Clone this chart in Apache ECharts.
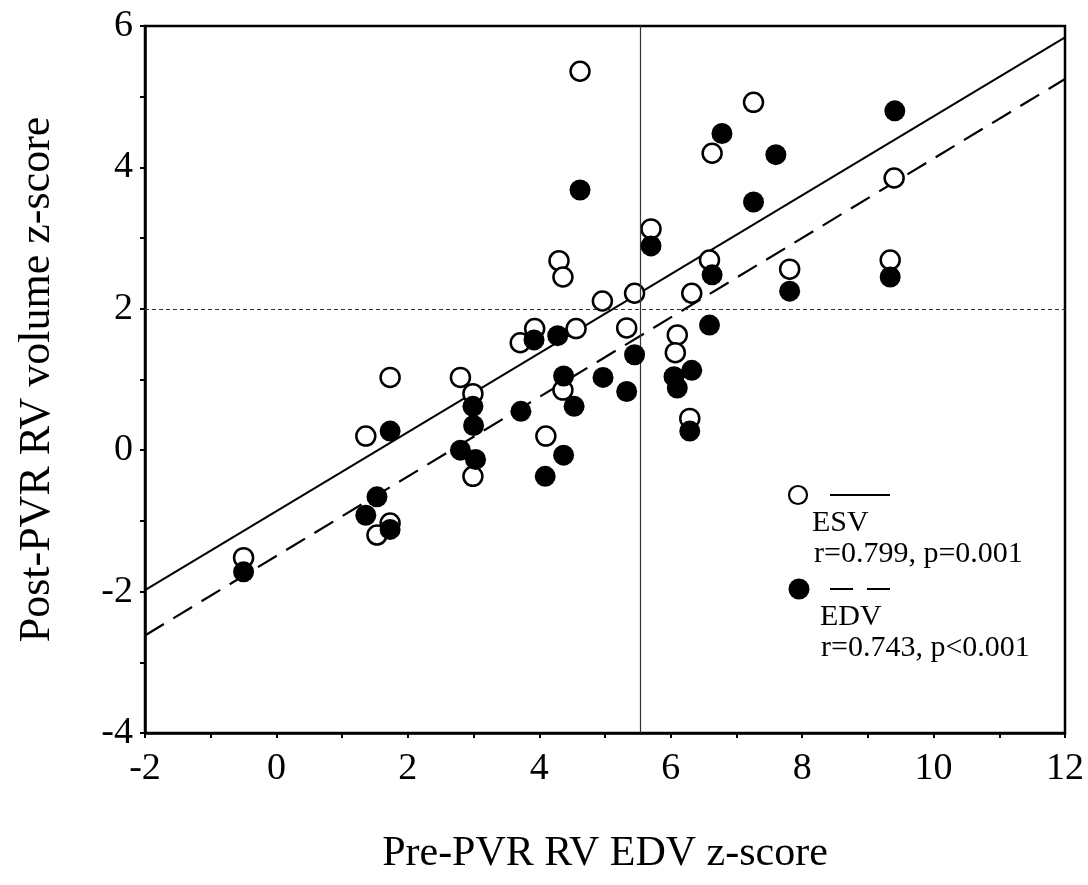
<!DOCTYPE html>
<html>
<head>
<meta charset="utf-8">
<script src="https://cdn.jsdelivr.net/npm/echarts@6/dist/echarts.min.js"></script>
<style>
html,body{margin:0;padding:0;background:#fff;}
#chart{width:1088px;height:885px;}
</style>
</head>
<body>
<div id="chart"></div>
<script>
// ---- data ----
var xTitle = 'Pre-PVR RV EDV z-score';
var yTitle = 'Post-PVR RV volume z-score';

var esvPoints = [
  [4.62,5.36],[4.30,2.68],[4.36,2.45],[4.96,2.11],[3.93,1.72],[3.71,1.52],[4.56,1.72],
  [1.73,1.03],[2.80,1.03],[7.26,4.92],[6.63,4.20],[9.40,3.85],[5.70,3.13],[6.59,2.69],
  [7.81,2.56],[9.34,2.69],[5.45,2.22],[6.32,2.22],[5.33,1.73],[6.10,1.63],[6.07,1.38],
  [6.29,0.45],[4.36,0.85],[2.99,0.80],[1.36,0.20],[4.10,0.20],[2.99,-0.37],[1.73,-1.03],
  [1.53,-1.20],[-0.50,-1.52]
];
var edvPoints = [
  [4.62,3.68],[3.92,1.56],[4.28,1.62],[9.41,4.80],[6.78,4.48],[7.60,4.18],[7.26,3.51],
  [5.70,2.89],[6.63,2.48],[7.81,2.25],[9.34,2.45],[6.59,1.77],[5.45,1.35],[4.97,1.03],
  [6.32,1.13],[6.05,1.04],[6.10,0.88],[5.33,0.83],[6.29,0.27],[4.37,1.05],[2.99,0.62],
  [4.53,0.62],[3.72,0.55],[3.00,0.35],[1.73,0.27],[2.80,0.00],[3.03,-0.13],[4.37,-0.07],
  [4.09,-0.37],[1.53,-0.66],[1.36,-0.92],[1.73,-1.12],[-0.50,-1.72]
];
var esvFit = [[-2,-1.98],[12,5.84]];
var edvFit = [[-2,-2.62],[12,5.25]];
var refX = 5.53;
var refY = 2;
var xRange = [-2, 12];
var yRange = [-4, 6];
var legendLabels = ['ESV', 'r=0.799, p=0.001', 'EDV', 'r=0.743, p<0.001'];

// ---- chart ----
var FONT = '"Liberation Serif", "Times New Roman", serif';
var chart = echarts.init(document.getElementById('chart'), null, {renderer: 'canvas'});

function evenOnly(v){ return (Math.round(v) % 2 === 0) ? String(Math.round(v)) : ''; }

var option = {
  backgroundColor: '#ffffff',
  animation: false,
  grid: {left: 145, right: 23, top: 26, bottom: 152, show: true, borderColor: '#000', borderWidth: 2.5, backgroundColor: 'transparent'},
  xAxis: {
    type: 'value', min: xRange[0], max: xRange[1], interval: 1,
    name: xTitle, nameLocation: 'middle', nameGap: 100,
    nameTextStyle: {fontFamily: FONT, fontSize: 42, color: '#000'},
    axisLine: {show: true, onZero: false, lineStyle: {color: '#000', width: 2.5}},
    axisTick: {show: true, inside: false, length: 5, lineStyle: {color: '#000', width: 2}},
    axisLabel: {formatter: evenOnly, fontFamily: FONT, fontSize: 38, color: '#000', margin: 17, showMinLabel: true, showMaxLabel: true},
    splitLine: {show: false}
  },
  yAxis: {
    type: 'value', min: yRange[0], max: yRange[1], interval: 1,
    name: yTitle, nameLocation: 'middle', nameGap: 86, nameRotate: 90,
    nameTextStyle: {fontFamily: FONT, fontSize: 44, color: '#000'},
    axisLine: {show: true, onZero: false, lineStyle: {color: '#000', width: 2.5}},
    axisTick: {show: true, inside: false, length: 5, lineStyle: {color: '#000', width: 2}},
    axisLabel: {formatter: evenOnly, fontFamily: FONT, fontSize: 38, color: '#000', margin: 12, showMinLabel: true, showMaxLabel: true},
    splitLine: {show: false}
  },
  series: [
    {
      type: 'line', data: esvFit, symbol: 'none', silent: true, z: 3,
      lineStyle: {color: '#000', width: 2, type: 'solid'},
      markLine: {
        silent: true, symbol: 'none', label: {show: false},
        data: [
          {xAxis: refX, lineStyle: {color: '#333', width: 1.2, type: 'solid'}},
          {yAxis: refY, lineStyle: {color: '#333', width: 1.2, type: [4, 3]}}
        ]
      }
    },
    {
      type: 'line', data: edvFit, symbol: 'none', silent: true, z: 3,
      lineStyle: {color: '#000', width: 2.2, type: [22, 11]}
    },
    {
      type: 'scatter', data: esvPoints, symbol: 'circle', symbolSize: 19, z: 4,
      itemStyle: {color: '#fff', borderColor: '#000', borderWidth: 2.5, opacity: 1}
    },
    {
      type: 'scatter', data: edvPoints, symbol: 'circle', symbolSize: 21, z: 5,
      itemStyle: {color: '#000', borderColor: '#000', borderWidth: 0, opacity: 1}
    }
  ],
  graphic: [
    {type: 'circle', shape: {cx: 798, cy: 495, r: 9}, style: {fill: '#fff', stroke: '#000', lineWidth: 2.2}},
    {type: 'line', shape: {x1: 830, y1: 495, x2: 890, y2: 495}, style: {stroke: '#000', lineWidth: 2}},
    {type: 'text', x: 812, y: 538, style: {text: legendLabels[0], font: '30px ' + FONT, fill: '#000', textVerticalAlign: 'bottom', verticalAlign: 'bottom'}},
    {type: 'text', x: 814, y: 569, style: {text: legendLabels[1], font: '30px ' + FONT, fill: '#000', textVerticalAlign: 'bottom', verticalAlign: 'bottom'}},
    {type: 'circle', shape: {cx: 799, cy: 589, r: 10.5}, style: {fill: '#000', stroke: null}},
    {type: 'line', shape: {x1: 830, y1: 589, x2: 890, y2: 589}, style: {stroke: '#000', lineWidth: 2, lineDash: [23, 14]}},
    {type: 'text', x: 820, y: 632, style: {text: legendLabels[2], font: '30px ' + FONT, fill: '#000', textVerticalAlign: 'bottom', verticalAlign: 'bottom'}},
    {type: 'text', x: 821, y: 663, style: {text: legendLabels[3], font: '30px ' + FONT, fill: '#000', textVerticalAlign: 'bottom', verticalAlign: 'bottom'}}
  ]
};
chart.setOption(option);
</script>
</body>
</html>
